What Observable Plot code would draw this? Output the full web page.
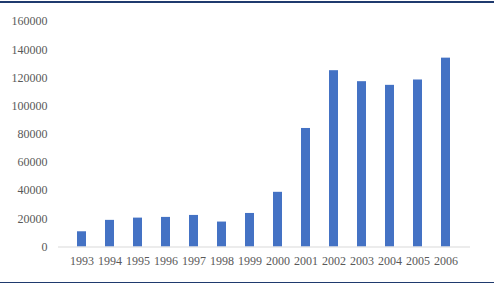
<!DOCTYPE html>
<html><head><meta charset="utf-8">
<script src="https://cdn.jsdelivr.net/npm/d3@7"></script>
<script src="https://cdn.jsdelivr.net/npm/@observablehq/plot@0.6"></script>
<style>
body{margin:0;background:#fff;}
#wrap{position:relative;width:496px;height:287px;overflow:hidden;}
.bl{position:absolute;left:0;width:494px;height:1.5px;background:#1f3a6e;}
#wrap svg{position:absolute;left:0;top:0;}
</style></head>
<body><div id="wrap"><div class="bl" style="top:1px"></div><div class="bl" style="top:281.5px"></div></div>
<script>
const years = ["1993","1994","1995","1996","1997","1998","1999","2000","2001","2002","2003","2004","2005","2006"];
const values = [10800, 18900, 20500, 21000, 22400, 17700, 23800, 38800, 84100, 125100, 117300, 114700, 118500, 134000];
const yTicks = [0,20000,40000,60000,80000,100000,120000,140000,160000];
const data = years.map((y,i)=>({year:y, value:values[i]}));
const chart = Plot.plot({
  width:496, height:287,
  marginLeft:58, marginRight:26, marginTop:21, marginBottom:40.5,
  style:{fontFamily:"'Liberation Serif', serif", fontSize:"12px", color:"#595959", background:"transparent"},
  x:{domain:years, padding:0.675, label:null, tickSize:0, tickPadding:9},
  y:{domain:[0,160000], ticks:yTicks, label:null, tickSize:0, tickPadding:11, tickFormat:d=>String(d)},
  marks:[
    Plot.barY(data,{x:"year", y:"value", fill:"#4472C4"}),
    Plot.ruleY([0],{stroke:"#d9d9d9", strokeWidth:1})
  ]
});
document.getElementById("wrap").appendChild(chart);
</script></body></html>
